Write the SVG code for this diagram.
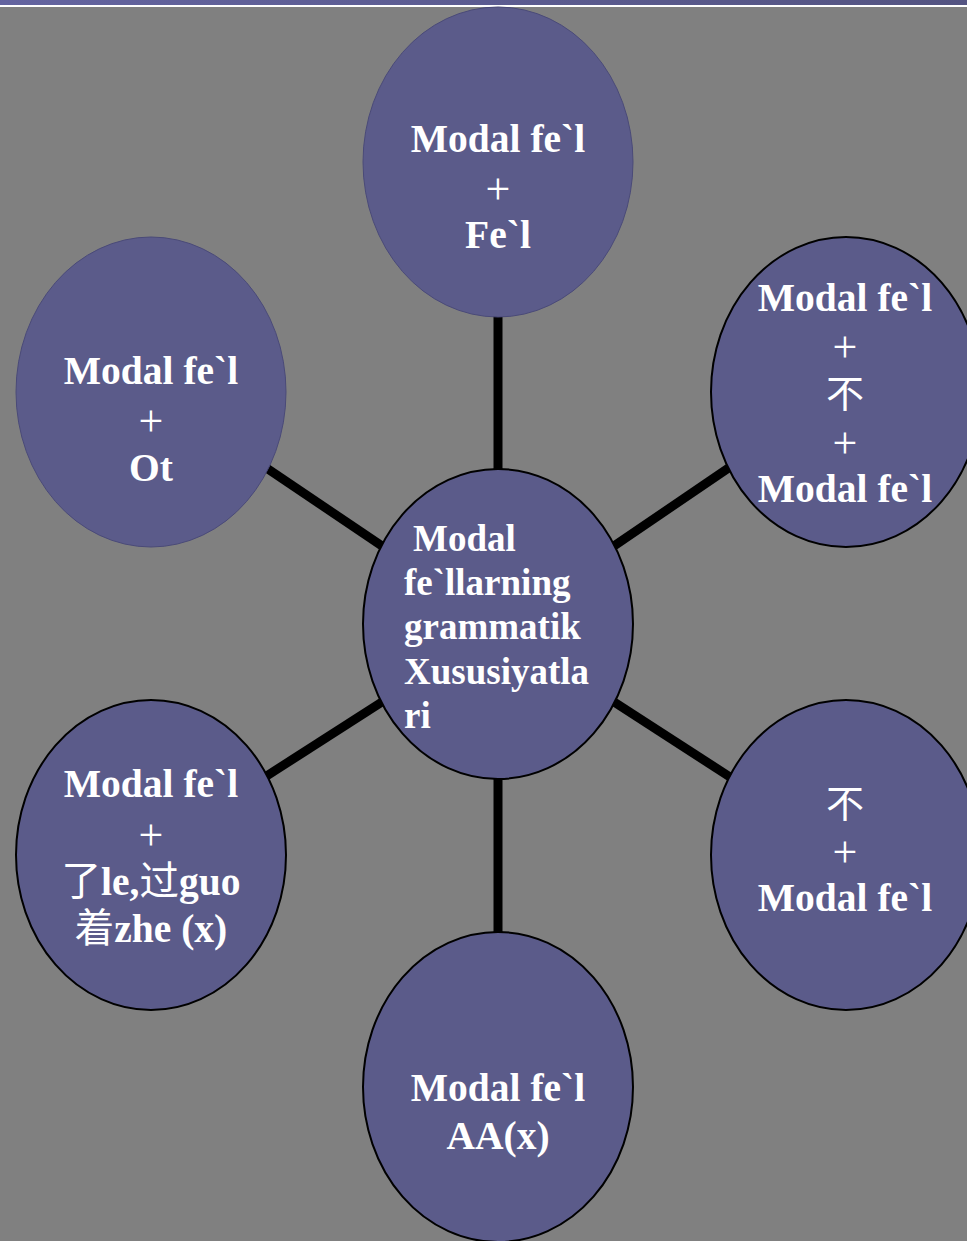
<svg xmlns="http://www.w3.org/2000/svg" width="967" height="1241" viewBox="0 0 967 1241">
<defs>
<linearGradient id="band" x1="0" y1="0" x2="1" y2="0">
<stop offset="0" stop-color="#6464a0"/>
<stop offset="1" stop-color="#545482"/>
</linearGradient>
</defs>
<style>
.n{fill:#5b5b8a;stroke:#000;stroke-width:2}
.ns{fill:#5b5b8a;stroke:#4a4a78;stroke-width:1}
.t{font-family:"Liberation Serif","Noto Sans CJK SC",serif;font-weight:bold;font-size:39.5px;fill:#fff;text-anchor:middle}
.p{font-family:"Liberation Serif",serif;font-weight:normal;font-size:44px;fill:#fff;text-anchor:middle}
.c{font-family:"Noto Sans CJK SC",sans-serif;font-weight:normal;font-size:38px;fill:#fff;text-anchor:middle}
.cj{font-family:"Noto Sans CJK SC",sans-serif;font-weight:normal}
.l{font-family:"Liberation Serif",serif;font-weight:bold;font-size:37px;fill:#fff}
.e{stroke:#000;stroke-width:9;fill:none}
</style>
<rect x="0" y="0" width="967" height="1241" fill="#808080"/>
<rect x="0" y="0" width="967" height="5" fill="url(#band)"/>
<rect x="0" y="5" width="967" height="2" fill="#ffffff"/>
<g id="connectors">
<line class="e" x1="498" y1="310" x2="498" y2="475"/>
<line class="e" x1="498" y1="772" x2="498" y2="938"/>
<line class="e" x1="265" y1="467" x2="385" y2="548"/>
<line class="e" x1="730" y1="467" x2="611" y2="548"/>
<line class="e" x1="265" y1="777" x2="385" y2="700"/>
<line class="e" x1="730" y1="777" x2="611" y2="700"/>
</g>
<g id="node-top">
<ellipse class="ns" cx="498" cy="162" rx="135" ry="155"/>
<text class="t" x="498" y="152">Modal fe`l</text>
<text class="p" x="498" y="204">+</text>
<text class="t" x="498" y="248">Fe`l</text>
</g>
<g id="node-topleft">
<ellipse class="ns" cx="151" cy="392" rx="135" ry="155"/>
<text class="t" x="151" y="384">Modal fe`l</text>
<text class="p" x="151" y="436">+</text>
<text class="t" x="151" y="481">Ot</text>
</g>
<g id="node-topright">
<ellipse class="n" cx="846" cy="392" rx="135" ry="155"/>
<text class="t" x="845" y="311">Modal fe`l</text>
<text class="p" x="845" y="362">+</text>
<text class="c" x="845" y="407">不</text>
<text class="p" x="845" y="458">+</text>
<text class="t" x="845" y="502">Modal fe`l</text>
</g>
<g id="node-center">
<ellipse class="n" cx="498" cy="624" rx="135" ry="155"/>
<text class="l" x="413" y="551">Modal</text>
<text class="l" x="404" y="595">fe`llarning</text>
<text class="l" x="404" y="639">grammatik</text>
<text class="l" x="404" y="684">Xususiyatla</text>
<text class="l" x="404" y="728">ri</text>
</g>
<g id="node-bottomleft">
<ellipse class="n" cx="151" cy="855" rx="135" ry="155"/>
<text class="t" x="151" y="797">Modal fe`l</text>
<text class="p" x="151" y="850">+</text>
<text class="t" x="151" y="895"><tspan class="cj">了</tspan>le,<tspan class="cj">过</tspan>guo</text>
<text class="t" x="151" y="942"><tspan class="cj">着</tspan>zhe (x)</text>
</g>
<g id="node-bottomright">
<ellipse class="n" cx="846" cy="855" rx="135" ry="155"/>
<text class="c" x="845" y="817">不</text>
<text class="p" x="845" y="867">+</text>
<text class="t" x="845" y="911">Modal fe`l</text>
</g>
<g id="node-bottom">
<ellipse class="n" cx="498" cy="1087" rx="135" ry="155"/>
<text class="t" x="498" y="1101">Modal fe`l</text>
<text class="t" x="498" y="1149">AA(x)</text>
</g>
</svg>
